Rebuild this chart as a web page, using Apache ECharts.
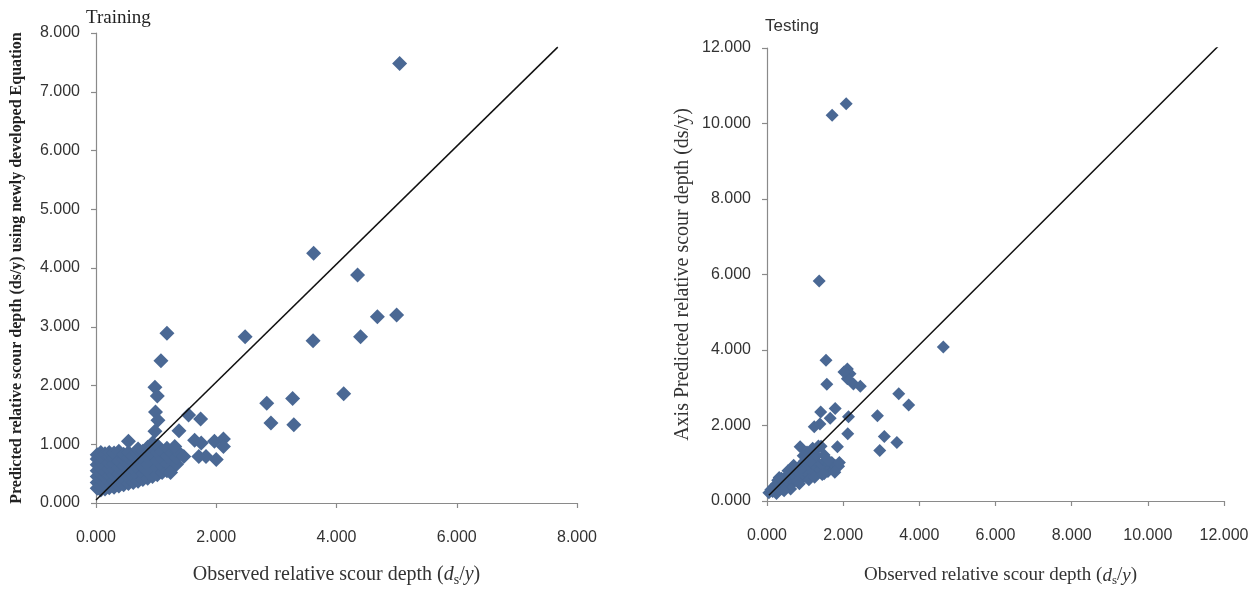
<!DOCTYPE html>
<html>
<head>
<meta charset="utf-8">
<script src="https://cdn.jsdelivr.net/npm/echarts@6/dist/echarts.min.js"></script>
<style>
html,body{margin:0;padding:0;background:#fff;}
#c{width:1258px;height:592px;}
</style>
</head>
<body>
<div id="c"></div>
<script>
// ---- Training data (observed, predicted) ----
const trainX = [
  // dense cluster
  0.02,0.02,0.02,0.02,0.02,0.02,0.02,
  0.08,0.08,0.08,0.08,0.08,0.08,0.08,0.08,
  0.15,0.15,0.15,0.15,0.15,0.15,0.15,
  0.22,0.22,0.22,0.22,0.22,0.22,0.22,
  0.30,0.30,0.30,0.30,0.30,0.30,0.30,
  0.38,0.38,0.38,0.38,0.38,0.38,
  0.46,0.46,0.46,0.46,0.46,0.46,
  0.54,0.54,0.54,0.54,0.54,0.54,
  0.62,0.62,0.62,0.62,0.62,
  0.70,0.70,0.70,0.70,0.70,0.70,
  0.78,0.78,0.78,0.78,0.78,
  0.86,0.86,0.86,0.86,0.86,
  0.94,0.94,0.94,0.94,0.94,
  1.02,1.02,1.02,1.02,1.02,
  1.10,1.10,1.10,1.10,
  1.18,1.18,1.18,1.18,
  1.26,1.26,1.26,
  1.34,1.34,1.34,
  // scattered points
  1.18,1.08,0.98,1.02,0.99,1.03,0.98,1.54,1.74,1.38,0.54,1.64,1.75,1.97,2.12,2.12,
  2.00,1.83,1.71,1.46,1.31,1.24,2.84,2.91,3.27,3.29,2.48,3.61,3.62,4.35,4.40,4.68,
  5.00,4.12,5.05
];
const trainY = [
  0.25,0.35,0.45,0.55,0.65,0.75,0.82,
  0.22,0.30,0.40,0.50,0.60,0.70,0.80,0.86,
  0.24,0.33,0.44,0.53,0.62,0.73,0.84,
  0.26,0.36,0.47,0.58,0.68,0.79,0.86,
  0.27,0.37,0.48,0.57,0.66,0.76,0.85,
  0.29,0.39,0.50,0.61,0.72,0.88,
  0.31,0.40,0.52,0.63,0.74,0.83,
  0.33,0.43,0.55,0.66,0.78,0.86,
  0.35,0.45,0.57,0.69,0.80,
  0.37,0.47,0.60,0.72,0.84,0.92,
  0.40,0.50,0.62,0.75,0.88,
  0.42,0.53,0.66,0.78,0.95,
  0.45,0.56,0.68,0.82,1.02,
  0.48,0.60,0.72,0.86,0.98,
  0.52,0.63,0.75,0.88,
  0.55,0.67,0.80,0.93,
  0.60,0.72,0.85,
  0.66,0.78,0.90,
  2.89,2.42,1.97,1.82,1.55,1.41,1.22,1.50,1.43,1.23,1.05,1.07,1.02,1.05,1.09,0.96,
  0.74,0.79,0.79,0.79,0.96,0.52,1.70,1.36,1.78,1.33,2.83,2.76,4.25,3.88,2.83,3.17,
  3.20,1.86,7.48
];
const trainLineX = [0.00, 7.68];
const trainLineY = [0.05, 7.76];

// ---- Testing data (observed, predicted) ----
const testX = [
  0.05,0.10,0.15,0.18,0.22,0.25,0.28,0.30,0.35,0.38,0.40,0.45,0.48,0.50,0.55,0.58,
  0.60,0.65,0.68,0.70,0.75,0.78,0.80,0.85,0.88,0.90,0.95,0.98,1.00,1.05,1.08,1.10,
  1.15,1.18,1.20,1.25,1.28,1.30,1.35,1.40,1.42,1.45,1.50,1.52,1.55,1.60,1.62,1.68,
  1.70,1.75,1.78,1.82,1.88,1.20,1.35,0.87,1.05,0.70,0.95,
  0.32,0.55,0.62,0.85,1.10,1.25,1.45,1.15,1.30,1.50,1.60,1.78,1.90,0.45,0.25,
  1.24,1.41,1.39,1.66,1.79,1.85,2.12,2.14,2.90,3.08,3.41,2.96,3.46,3.72,
  1.57,1.55,2.11,2.18,2.11,2.27,2.45,2.02,1.37,4.63,1.71,2.08
];
const testY = [
  0.22,0.30,0.25,0.38,0.30,0.45,0.55,0.35,0.42,0.60,0.32,0.50,0.62,0.40,0.55,0.68,
  0.45,0.60,0.75,0.50,0.65,0.82,0.55,0.72,0.95,0.60,0.80,1.05,0.65,0.85,1.15,0.70,
  0.90,1.25,0.75,0.95,1.35,0.78,1.00,0.82,1.45,0.95,0.72,1.05,0.85,0.78,0.98,0.88,
  1.02,0.82,0.95,0.90,0.92,1.40,1.46,1.44,1.30,0.95,1.20,
  0.62,0.80,0.32,0.46,0.56,0.63,0.70,1.05,1.20,1.22,1.08,0.76,1.02,0.27,0.20,
  1.97,2.36,2.04,2.19,2.45,1.44,1.78,2.23,2.26,1.71,1.55,1.34,2.84,2.54,
  3.09,3.73,3.50,3.37,3.24,3.10,3.04,3.42,5.83,4.08,10.22,10.52
];
const testLineX = [0.05, 11.85];
const testLineY = [0.15, 12.05];

const zip = (a, b) => a.map((v, i) => [v, b[i]]);

const markerColor = '#4a6894';
const tickFont = 'Liberation Sans';
const serif = 'Liberation Serif';
const fmt = v => v.toFixed(3);

function xName() {
  return '{a|Observed relative scour depth (}{i|d}{s|s}{a|/}{i|y}{a|)}';
}
function xRich(fs) {
  return {
    a: {fontFamily: serif, fontSize: fs, color: '#333'},
    i: {fontFamily: serif, fontSize: fs, fontStyle: 'italic', color: '#333'},
    s: {fontFamily: serif, fontSize: fs - 6, color: '#333', verticalAlign: 'bottom', padding: [10, 0, 0, 0]}
  };
}

const axisCommon = {
  type: 'value',
  axisLine: {show: true, lineStyle: {color: '#8a8a8a', width: 1.2}},
  axisTick: {show: true, length: 5, lineStyle: {color: '#8a8a8a', width: 1.2}},
  splitLine: {show: false},
  axisLabel: {formatter: fmt, fontFamily: tickFont, fontSize: 16, color: '#333'}
};

const chart = echarts.init(document.getElementById('c'), null, {renderer: 'canvas'});
chart.setOption({
  animation: false,
  backgroundColor: '#ffffff',
  title: [
    {text: 'Training', left: 81, top: 4, textStyle: {fontFamily: serif, fontSize: 19, fontWeight: 'normal', color: '#222'}},
    {text: 'Testing', left: 760, top: 13, textStyle: {fontFamily: tickFont, fontSize: 17, fontWeight: 'normal', color: '#333'}}
  ],
  grid: [
    {left: 96, right: 681, top: 33, bottom: 83},
    {left: 767, right: 34, top: 48, bottom: 87}
  ],
  xAxis: [
    Object.assign({}, axisCommon, {gridIndex: 0, min: 0, max: 8, interval: 2,
      axisLabel: Object.assign({}, axisCommon.axisLabel, {margin: 27}),
      name: xName(), nameLocation: 'middle', nameGap: 60,
      nameTextStyle: {rich: xRich(20)}}),
    Object.assign({}, axisCommon, {gridIndex: 1, min: 0, max: 12, interval: 2,
      axisLabel: Object.assign({}, axisCommon.axisLabel, {margin: 27}),
      name: xName(), nameLocation: 'middle', nameGap: 63,
      nameTextStyle: {rich: xRich(19), padding: [0, 0, 0, 10]}})
  ],
  yAxis: [
    Object.assign({}, axisCommon, {gridIndex: 0, min: 0, max: 8, interval: 1,
      axisLabel: Object.assign({}, axisCommon.axisLabel, {margin: 16}),
      name: 'Predicted relative scour depth (ds/y) using newly developed Equation',
      nameLocation: 'middle', nameGap: 71,
      nameTextStyle: {fontFamily: serif, fontSize: 16, fontWeight: 'bold', color: '#222'}}),
    Object.assign({}, axisCommon, {gridIndex: 1, min: 0, max: 12, interval: 2,
      axisLabel: Object.assign({}, axisCommon.axisLabel, {margin: 16}),
      name: 'Axis Predicted relative scour depth (ds/y)',
      nameLocation: 'middle', nameGap: 74,
      nameTextStyle: {fontFamily: serif, fontSize: 20, color: '#333'}})
  ],
  series: [
    {type: 'scatter', xAxisIndex: 0, yAxisIndex: 0, symbol: 'diamond', symbolSize: 15,
      itemStyle: {color: markerColor, opacity: 1}, data: zip(trainX, trainY), z: 2},
    {type: 'line', xAxisIndex: 0, yAxisIndex: 0, symbol: 'none', silent: true,
      lineStyle: {color: '#111', width: 1.5}, data: zip(trainLineX, trainLineY), z: 3},
    {type: 'scatter', xAxisIndex: 1, yAxisIndex: 1, symbol: 'diamond', symbolSize: 13,
      itemStyle: {color: markerColor, opacity: 1}, data: zip(testX, testY), z: 2},
    {type: 'line', xAxisIndex: 1, yAxisIndex: 1, symbol: 'none', silent: true,
      lineStyle: {color: '#111', width: 1.5}, data: zip(testLineX, testLineY), z: 3}
  ]
});
</script>
</body>
</html>
